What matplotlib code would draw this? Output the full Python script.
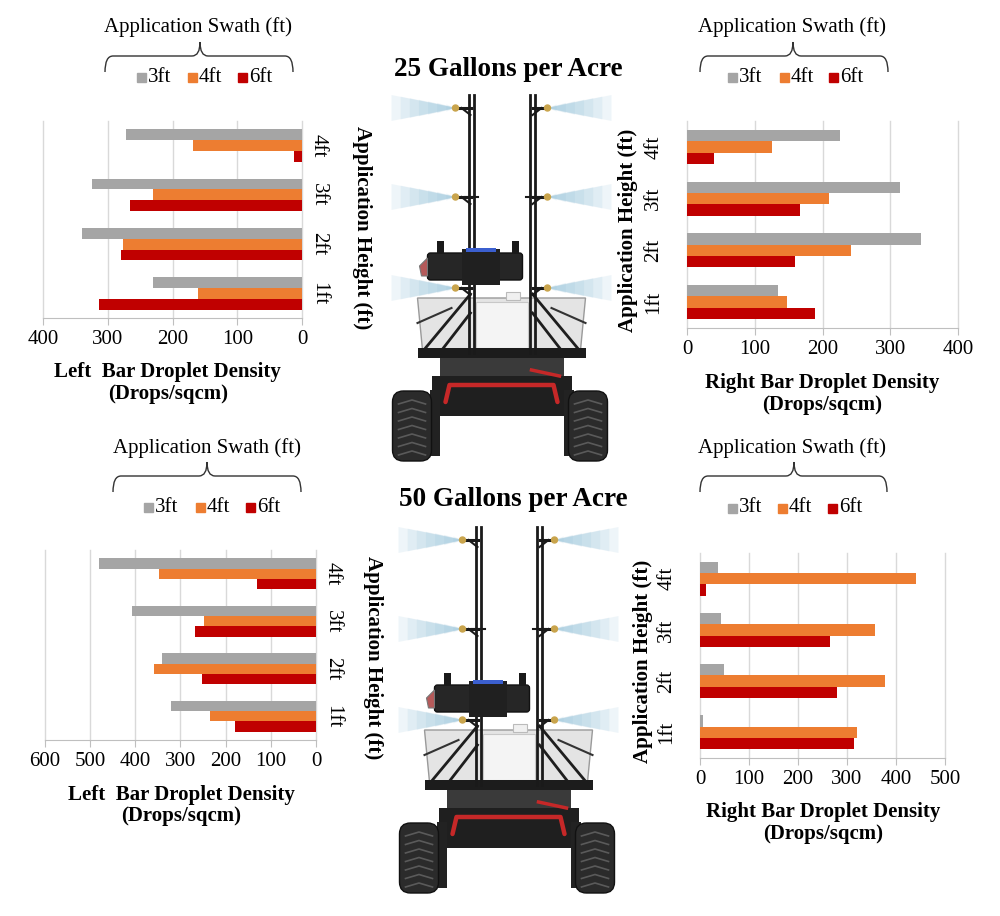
import numpy as np
import matplotlib
matplotlib.use('Agg')
from matplotlib import pyplot as plt
from matplotlib.patches import Rectangle, Polygon, FancyBboxPatch, PathPatch
from matplotlib.path import Path

plt.rcParams['font.family'] = ['Liberation Serif', 'DejaVu Serif']

# data (drops/sqcm), order follows heights
heights = ['1ft', '2ft', '3ft', '4ft']
swaths = ['3ft', '4ft', '6ft']

gpa25_left_3ft = [230, 340, 325, 272]
gpa25_left_4ft = [160, 277, 230, 168]
gpa25_left_6ft = [313, 279, 266, 12]

gpa25_right_3ft = [135, 346, 314, 226]
gpa25_right_4ft = [148, 242, 210, 126]
gpa25_right_6ft = [189, 159, 167, 40]

gpa50_left_3ft = [322, 340, 407, 481]
gpa50_left_4ft = [235, 358, 249, 348]
gpa50_left_6ft = [180, 252, 267, 131]

gpa50_right_3ft = [7, 48, 43, 37]
gpa50_right_4ft = [321, 378, 358, 441]
gpa50_right_6ft = [315, 279, 266, 13]

colors = ['#A5A5A5', '#ED7D31', '#C00000']
W, H = 1000, 916

fig = plt.figure(figsize=(W / 100, H / 100), dpi=100)
fig.patch.set_facecolor('white')

# overlay axes in pixel coords for text, braces and the robot sketch
ov = fig.add_axes([0, 0, 1, 1])
ov.set_xlim(0, W)
ov.set_ylim(H, 0)
ov.axis('off')


def add_panel(x0, x1, y0, y1):
    return fig.add_axes([x0 / W, 1 - y1 / H, (x1 - x0) / W, (y1 - y0) / H])


def draw_bars(ax, s3, s4, s6, xmax, side):
    y = np.arange(len(heights))
    h = 0.22
    ax.barh(y + h, s3, h, color=colors[0], zorder=2)
    ax.barh(y, s4, h, color=colors[1], zorder=2)
    ax.barh(y - h, s6, h, color=colors[2], zorder=2)
    ax.set_facecolor('none')
    ax.set_ylim(-0.5, 3.5)
    ax.set_xticks(range(0, xmax + 1, 100))
    ax.grid(axis='x', color='#D9D9D9', lw=1, zorder=0)
    ax.set_axisbelow(True)
    for s in ['top', 'left', 'right']:
        ax.spines[s].set_visible(False)
    ax.spines['bottom'].set_color('#BFBFBF')
    ax.tick_params(axis='x', colors='#BFBFBF', length=5, labelsize=15,
                   labelcolor='black', pad=4)
    ax.set_yticks(y)
    if side == 'left':
        ax.set_xlim(xmax, 0)
        ax.yaxis.tick_right()
        ax.set_yticklabels(heights, rotation=270, va='center', ha='left', fontsize=15)
        ax.tick_params(axis='y', length=0, pad=5)
    else:
        ax.set_xlim(0, xmax)
        ax.set_yticklabels(heights, rotation=90, va='center', ha='right', fontsize=15)
        ax.tick_params(axis='y', length=0, pad=17)
    for g in ax.get_xgridlines():
        g.set_clip_on(False)


def draw_brace(x0, x1, xm, y_end, y_line, y_tip):
    r = 8
    verts = [(x0, y_end), (x0, y_line), (x0 + r, y_line),
             (xm - r, y_line), (xm, y_line), (xm, y_tip),
             (xm, y_line), (xm + r, y_line),
             (x1 - r, y_line), (x1, y_line), (x1, y_end)]
    codes = [Path.MOVETO, Path.CURVE3, Path.CURVE3,
             Path.LINETO, Path.CURVE3, Path.CURVE3,
             Path.CURVE3, Path.CURVE3,
             Path.LINETO, Path.CURVE3, Path.CURVE3]
    ov.add_patch(PathPatch(Path(verts, codes), fill=False, ec='#333333', lw=1))


def draw_legend(cx_text, y_text, brace, sq_x, y_leg):
    ov.text(cx_text, y_text, 'Application Swath (ft)', fontsize=15, ha='center', va='center')
    draw_brace(*brace)
    for i in range(3):
        ov.add_patch(Rectangle((sq_x[i], y_leg - 4.5), 9, 9, color=colors[i]))
        ov.text(sq_x[i] + 11, y_leg, swaths[i], fontsize=15, ha='left', va='center')


def draw_robot(cx, y0):
    # spray fans
    for dy in (0, 89, 180):
        yy = y0 + dy
        for sd in (-1, 1):
            nx = cx + sd * 46
            for k in range(1, 8):
                L = 64 * k / 7
                w = 2 + 11 * k / 7
                ov.add_patch(Polygon([(nx, yy), (nx + sd * L, yy - w), (nx + sd * L, yy + w)],
                                     closed=True, fc='#8dbdd6', ec='none', alpha=0.14, zorder=1))
    # tank body
    ov.add_patch(Polygon([(cx - 84, y0 + 190), (cx + 84, y0 + 190), (cx + 79, y0 + 242), (cx - 79, y0 + 242)],
                         closed=True, fc='#e4e4e4', ec='#9a9a9a', lw=1, zorder=2))
    ov.add_patch(Rectangle((cx - 26, y0 + 194), 52, 46, fc='#f4f4f4', ec='#c8c8c8', lw=0.8, zorder=2))
    ov.add_patch(Rectangle((cx + 4, y0 + 184), 14, 8, fc='#f0f0f0', ec='#bbbbbb', lw=0.8, zorder=2))
    # struts
    for sd in (-1, 1):
        ov.plot([cx + sd * 31, cx + sd * 76], [y0 + 186, y0 + 240], color='#1e1e1e', lw=2, zorder=3)
        ov.plot([cx + sd * 31, cx + sd * 62], [y0 + 205, y0 + 245], color='#1e1e1e', lw=2, zorder=3)
        ov.plot([cx + sd * 50, cx + sd * 84], [y0 + 200, y0 + 215], color='#333333', lw=1.5, zorder=3)
    # frame band and chassis
    ov.add_patch(Rectangle((cx - 84, y0 + 240), 168, 10, fc='#1c1c1c', ec='none', zorder=3))
    ov.add_patch(Rectangle((cx - 62, y0 + 250), 124, 20, fc='#3a3a3a', ec='none', zorder=2))
    ov.add_patch(Rectangle((cx - 70, y0 + 268), 140, 40, fc='#1f1f1f', ec='none', zorder=2))
    for sd in (-1, 1):
        ov.add_patch(Rectangle((cx + sd * 67 - 5, y0 + 282), 10, 66, fc='#222222', ec='none', zorder=2))
    ov.plot([cx - 56, cx - 52, cx + 52, cx + 56], [y0 + 294, y0 + 277, y0 + 277, y0 + 294],
            color='#c62828', lw=3.2, zorder=4, solid_capstyle='round')
    ov.plot([cx + 30, cx + 58], [y0 + 262, y0 + 268], color='#c62828', lw=2.5, zorder=4)
    # wheels
    for x_left in (cx - 109, cx + 67):
        ov.add_patch(FancyBboxPatch((x_left, y0 + 283), 39, 70,
                                    boxstyle='round,pad=0,rounding_size=11',
                                    fc='#2b2b2b', ec='#111111', lw=1, zorder=3))
        xm = x_left + 19.5
        for t in range(7):
            yt = y0 + 292 + t * 8.5
            ov.plot([x_left + 6, xm, x_left + 33], [yt + 4, yt, yt + 4],
                    color='#5a5a5a', lw=1.2, zorder=4)
    # masts
    for sd in (-1, 1):
        for off in (28, 33):
            ov.plot([cx + sd * off] * 2, [y0 - 13, y0 + 245], color='#1a1a1a', lw=2, zorder=5)
        for dy in (0, 89, 180):
            ov.plot([cx + sd * 31, cx + sd * 45], [y0 + dy, y0 + dy], color='#1a1a1a', lw=2.2, zorder=5)
            ov.plot([cx + sd * 31, cx + sd * 40], [y0 + dy + 7, y0 + dy], color='#1a1a1a', lw=1.5, zorder=5)
            ov.add_patch(plt.Circle((cx + sd * 46, y0 + dy), 3, color='#c9a44c', zorder=6))
        ov.plot([cx + sd * 24, cx + sd * 37], [y0 + 89, y0 + 89], color='#1a1a1a', lw=1.5, zorder=5)
    # camera unit
    ov.add_patch(FancyBboxPatch((cx - 74, y0 + 145), 95, 27, boxstyle='round,pad=0,rounding_size=3',
                                fc='#262626', ec='#111111', lw=1, zorder=6))
    ov.add_patch(Rectangle((cx - 40, y0 + 141), 38, 36, fc='#202020', ec='none', zorder=6))
    ov.add_patch(Rectangle((cx - 36, y0 + 140), 30, 4, fc='#3b5fcf', ec='none', zorder=7))
    ov.add_patch(Rectangle((cx - 65, y0 + 133), 7, 13, fc='#1a1a1a', ec='none', zorder=6))
    ov.add_patch(Rectangle((cx + 10, y0 + 133), 7, 13, fc='#1a1a1a', ec='none', zorder=6))
    ov.add_patch(Polygon([(cx - 74, y0 + 150), (cx - 82, y0 + 158), (cx - 80, y0 + 168), (cx - 74, y0 + 168)],
                         closed=True, fc='#b55a5a', ec='#777777', lw=0.8, zorder=6))


# robot sketches
draw_robot(501.5, 108)
draw_robot(508.5, 540)

# titles
ov.text(508, 70, '25 Gallons per Acre', fontsize=19.5, fontweight='bold', ha='center', va='center')
ov.text(513, 500, '50 Gallons per Acre', fontsize=19.5, fontweight='bold', ha='center', va='center')

# panels
ax1 = add_panel(43, 302, 121, 318)
draw_bars(ax1, gpa25_left_3ft, gpa25_left_4ft, gpa25_left_6ft, 400, 'left')
ax2 = add_panel(687, 958, 121, 328)
draw_bars(ax2, gpa25_right_3ft, gpa25_right_4ft, gpa25_right_6ft, 400, 'right')
ax3 = add_panel(45, 316, 550, 740)
draw_bars(ax3, gpa50_left_3ft, gpa50_left_4ft, gpa50_left_6ft, 600, 'left')
ax4 = add_panel(700, 945, 553, 758)
draw_bars(ax4, gpa50_right_3ft, gpa50_right_4ft, gpa50_right_6ft, 500, 'right')

# axis titles
lab = dict(fontsize=15, fontweight='bold', ha='center', va='center')
ov.text(167, 372, 'Left  Bar Droplet Density', **lab)
ov.text(168, 394, '(Drops/sqcm)', **lab)
ov.text(822, 383, 'Right Bar Droplet Density', **lab)
ov.text(822, 405, '(Drops/sqcm)', **lab)
ov.text(181, 795, 'Left  Bar Droplet Density', **lab)
ov.text(181, 816, '(Drops/sqcm)', **lab)
ov.text(823, 812, 'Right Bar Droplet Density', **lab)
ov.text(823, 834, '(Drops/sqcm)', **lab)

ov.text(362, 228, 'Application Height (ft)', rotation=270, zorder=8, **lab)
ov.text(628, 230, 'Application Height (ft)', rotation=90, zorder=8, **lab)
ov.text(373, 658, 'Application Height (ft)', rotation=270, zorder=8, **lab)
ov.text(643, 661, 'Application Height (ft)', rotation=90, zorder=8, **lab)

# legends
draw_legend(198, 27, (105, 293, 200, 72, 56, 42), [137, 188, 238], 77)
draw_legend(792, 27, (700, 888, 793, 72, 56, 42), [728, 780, 829], 77)
draw_legend(207, 448, (113, 301, 207, 492, 476, 462), [144, 196, 246], 507)
draw_legend(792, 448, (700, 887, 794, 492, 476, 462), [728, 778, 828], 508)

fig.savefig('out.png', dpi=100)
